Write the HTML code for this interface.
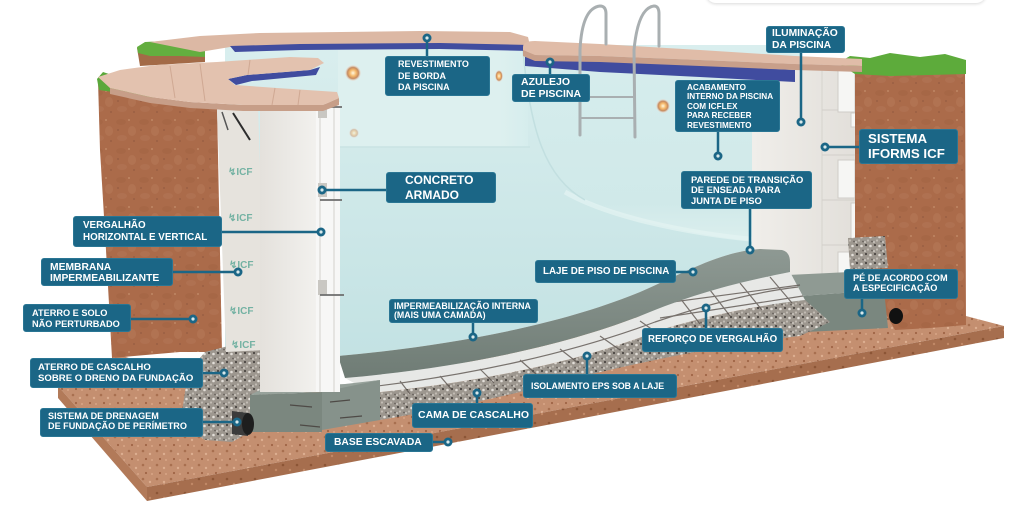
<!DOCTYPE html>
<html>
<head>
<meta charset="utf-8">
<style>
html,body{margin:0;padding:0;}
body{width:1024px;height:505px;overflow:hidden;background:#fff;position:relative;font-family:"Liberation Sans",Arial,sans-serif;}
svg{position:absolute;left:0;top:0;}
.lb{position:absolute;background:#1b6686;color:#fff;font-weight:bold;border-radius:3px;box-sizing:border-box;white-space:nowrap;border:1px solid #2a7694;}
.topbox{position:absolute;left:706px;top:-20px;width:280px;height:23px;border-radius:10px;background:#fff;box-shadow:0 1px 3px rgba(0,0,0,0.15);}
</style>
</head>
<body>
<div class="topbox"></div>
<svg width="1024" height="505" viewBox="0 0 1024 505">
<defs>
  <linearGradient id="water" x1="0" y1="0" x2="0" y2="1">
    <stop offset="0" stop-color="#d9eeee"/><stop offset="1" stop-color="#c3e2e3"/>
  </linearGradient>
  <linearGradient id="stepwall" x1="0" y1="0" x2="0" y2="1">
    <stop offset="0" stop-color="#d6eded"/><stop offset="0.8" stop-color="#d0e9e9"/><stop offset="1" stop-color="#dcefee"/>
  </linearGradient>
  <linearGradient id="backwall" x1="0" y1="0" x2="1" y2="0">
    <stop offset="0" stop-color="#ddf0ef"/><stop offset="0.85" stop-color="#ddf0ef"/><stop offset="1" stop-color="#d6eded"/>
  </linearGradient>
  <linearGradient id="col" x1="0" y1="0" x2="1" y2="0">
    <stop offset="0" stop-color="#e4e1dc"/><stop offset="1" stop-color="#f2f1ee"/>
  </linearGradient>
  <linearGradient id="rwall" x1="0" y1="0" x2="1" y2="0">
    <stop offset="0" stop-color="#f0eeea"/><stop offset="1" stop-color="#e2dfda"/>
  </linearGradient>
  <linearGradient id="slab" x1="0" y1="0" x2="0" y2="1">
    <stop offset="0" stop-color="#8e9993"/><stop offset="1" stop-color="#6f7c75"/>
  </linearGradient>
  <linearGradient id="soilg" x1="0" y1="0" x2="0" y2="1">
    <stop offset="0" stop-color="#a8684a"/><stop offset="0.5" stop-color="#b07250"/><stop offset="1" stop-color="#a46446"/>
  </linearGradient>
  <radialGradient id="lamp">
    <stop offset="0" stop-color="#fff8e0"/><stop offset="0.4" stop-color="#f5b96c"/><stop offset="0.7" stop-color="#c58a60"/><stop offset="1" stop-color="#efe6de" stop-opacity="0.3"/>
  </radialGradient>
  <pattern id="soilp" width="23" height="29" patternUnits="userSpaceOnUse">
    <rect width="23" height="29" fill="#ab6b4a"/>
    <ellipse cx="6" cy="6" rx="5" ry="3" fill="#9d5d3e" opacity="0.35"/>
    <ellipse cx="17" cy="15" rx="4" ry="5" fill="#bd8160" opacity="0.35"/>
    <ellipse cx="7" cy="22" rx="5" ry="3" fill="#b9805f" opacity="0.3"/>
    <circle cx="14" cy="4" r="1" fill="#c89171" opacity="0.7"/>
    <circle cx="3" cy="14" r="0.9" fill="#87503a" opacity="0.6"/>
    <circle cx="19" cy="25" r="0.9" fill="#87503a" opacity="0.6"/>
  </pattern>
  <pattern id="basep" width="14" height="14" patternUnits="userSpaceOnUse">
    <rect width="14" height="14" fill="#c48f70"/>
    <circle cx="3" cy="3" r="1.3" fill="#a86f4f"/>
    <circle cx="10" cy="6" r="1.2" fill="#dcae90"/>
    <circle cx="6" cy="11" r="1.1" fill="#9f6546"/>
    <circle cx="12" cy="12" r="1" fill="#d8a587"/>
  </pattern>
  <pattern id="basedk" width="14" height="14" patternUnits="userSpaceOnUse">
    <rect width="14" height="14" fill="#a66e4e"/>
    <circle cx="3" cy="3" r="1.3" fill="#8c5536"/>
    <circle cx="10" cy="8" r="1.2" fill="#c08866"/>
  </pattern>
  <pattern id="gravp" width="9" height="9" patternUnits="userSpaceOnUse">
    <rect width="9" height="9" fill="#9d978f"/>
    <circle cx="2" cy="2" r="1.1" fill="#4a4642"/>
    <circle cx="6.5" cy="3" r="1.3" fill="#e2ded8"/>
    <circle cx="4" cy="6.5" r="1.1" fill="#c3bdb5"/>
    <circle cx="8" cy="7.5" r="0.9" fill="#66605a"/>
    <circle cx="1" cy="8" r="0.8" fill="#ebe7e1"/>
  </pattern>
</defs>

<!-- base slab -->
<polygon points="58,386 147,487 1004,326 966,316 870,300 700,300 400,380 250,400 120,355" fill="url(#basep)"/>
<polygon points="147,487 1004,326 1004,338 147,501" fill="url(#basedk)"/>
<polygon points="58,386 147,487 147,501 58,398" fill="#b27a59"/>

<!-- left soil block -->
<polygon points="98,80 110,86 150,97 217,106 222,352 180,352 112,358 106,250 100,150" fill="url(#soilp)"/>
<polygon points="137,48 160,42 205,52 205,62 140,66" fill="#a36a47"/>
<polygon points="137,47 145,42 165,41 185,46 205,50 205,57 180,56 150,56 138,53" fill="#63ae3f"/>
<polygon points="97,79 103,72 112,75 120,71 128,78 140,83 150,89 156,97 140,98 120,93 99,90" fill="#5aa83a"/>

<!-- water -->
<path d="M225,45 L800,45 L800,250 L760,249 C720,252 690,270 640,292 C560,325 450,346 338,356 L225,356 Z" fill="url(#water)"/>
<rect x="338" y="50" width="190" height="97" fill="url(#backwall)"/>
<line x1="338" y1="147" x2="530" y2="147" stroke="#c9e3e3" stroke-width="1.5"/>
<path d="M523,50 L760,60 L760,242 C700,236 630,222 585,200 C545,178 530,130 523,50 Z" fill="url(#stepwall)"/>
<path d="M565,192 C605,215 680,233 760,240" stroke="#e4f3f2" stroke-width="5" fill="none" opacity="0.7"/>
<path d="M523,50 C530,130 545,178 585,200" stroke="#c2dfe0" stroke-width="1.5" fill="none"/>
<!-- lamps -->
<circle cx="353" cy="73" r="8" fill="url(#lamp)"/>
<ellipse cx="499" cy="76" rx="4" ry="6" fill="url(#lamp)"/>
<circle cx="663" cy="106" r="7" fill="url(#lamp)"/>
<ellipse cx="788" cy="117" rx="5" ry="7" fill="url(#lamp)"/>
<circle cx="354" cy="133" r="5" fill="url(#lamp)" opacity="0.5"/>

<!-- right wall -->
<polygon points="752,60 855,64 855,292 787,292 787,258 752,250" fill="url(#rwall)"/>
<line x1="822" y1="64" x2="822" y2="292" stroke="#d6d3ce" stroke-width="1"/>
<g stroke="#d2cfca" stroke-width="1">
  <line x1="822" y1="110" x2="855" y2="110"/><line x1="822" y1="155" x2="855" y2="155"/>
  <line x1="822" y1="200" x2="855" y2="200"/><line x1="822" y1="245" x2="855" y2="245"/>
</g>
<g fill="#f6f6f4" stroke="#cfccc7" stroke-width="1">
  <rect x="838" y="66" width="17" height="46"/>
  <rect x="851" y="113" width="20" height="14"/>
  <rect x="838" y="160" width="17" height="38"/>
  <rect x="851" y="203" width="18" height="48"/>
  <rect x="838" y="252" width="15" height="38"/>
</g>

<!-- right soil -->
<polygon points="855,72 965,68 966,325 930,328 895,330 878,300 862,285 855,250" fill="url(#soilp)"/>
<polygon points="838,63 850,56 870,58 890,53 920,57 945,54 966,60 966,74 930,75 890,76 855,74" fill="#5dab3b"/>
<polygon points="848,238 885,236 888,268 850,270" fill="url(#gravp)"/>

<!-- right footing -->
<polygon points="767,276 850,272 884,290 800,296" fill="#8f9a93"/>
<polygon points="800,296 884,290 888,328 805,332" fill="#7a877f"/>
<polygon points="767,276 800,296 805,332 770,318" fill="#6e7b73"/>
<ellipse cx="896" cy="316" rx="7" ry="8" fill="#111"/>

<!-- floor stack -->
<path d="M372,393 C480,382 580,362 660,330 C710,315 760,305 805,300 L830,322 L800,336 C720,345 640,362 560,382 C500,398 440,410 380,420 Z" fill="url(#gravp)"/>
<path d="M345,378 C460,368 570,345 650,312 C700,292 740,282 790,272 L805,300 C760,305 710,315 660,330 C580,362 480,382 372,393 Z" fill="#e7e8e6"/>
<g stroke="#5d5550" stroke-width="1.2" opacity="0.8" fill="none">
  <path d="M360,388 C470,376 575,352 655,322 C705,305 755,292 798,287"/>
  <line x1="650" y1="305" x2="800" y2="285"/>
  <line x1="660" y1="318" x2="803" y2="296"/>
  <line x1="680" y1="298" x2="700" y2="324"/>
  <line x1="710" y1="290" x2="730" y2="316"/>
  <line x1="740" y1="283" x2="762" y2="310"/>
  <line x1="770" y1="277" x2="792" y2="303"/>
  <line x1="400" y1="381" x2="410" y2="394"/><line x1="440" y1="376" x2="452" y2="390"/>
  <line x1="480" y1="369" x2="494" y2="383"/><line x1="520" y1="360" x2="536" y2="374"/>
  <line x1="560" y1="349" x2="578" y2="363"/><line x1="600" y1="336" x2="620" y2="350"/>
  <line x1="640" y1="321" x2="660" y2="335"/>
</g>
<path d="M338,356 C450,346 560,325 640,292 C690,270 720,252 760,249 L782,250 Q790,252 790,262 L790,272 C740,282 700,292 650,312 C570,345 460,368 345,378 Z" fill="url(#slab)"/>

<!-- left gravel mound -->
<polygon points="188,372 205,352 240,343 282,345 283,395 262,400 250,432 232,442 205,440 180,425" fill="url(#gravp)"/>
<!-- left footing -->
<polygon points="250,395 322,392 322,432 250,432" fill="#7b877f"/>
<polygon points="322,388 380,380 380,420 322,430" fill="#86928b"/>
<polygon points="250,395 264,388 345,384 380,380 322,392" fill="#97a29b"/>
<g stroke="#4e4a46" stroke-width="1.2">
  <line x1="290" y1="405" x2="312" y2="407"/><line x1="330" y1="402" x2="350" y2="400"/>
  <line x1="300" y1="425" x2="320" y2="427"/><line x1="340" y1="418" x2="362" y2="416"/>
</g>
<!-- drain pipe -->
<polygon points="232,411 248,413 248,436 232,434" fill="#3b3b3b"/>
<ellipse cx="248" cy="424" rx="6" ry="11" fill="#1e1e1e"/>

<!-- left ICF panel -->
<polygon points="217,110 258,106 266,350 226,352" fill="#e6e3dd"/>
<line x1="233" y1="113" x2="250" y2="140" stroke="#2d2d2d" stroke-width="2"/>
<line x1="222" y1="112" x2="228" y2="130" stroke="#555" stroke-width="1.5"/>
<g font-family="Liberation Sans, sans-serif" font-weight="bold" font-size="10" fill="#74b2a3">
  <text x="228" y="175">↯ICF</text><text x="228" y="221">↯ICF</text>
  <text x="229" y="268">↯ICF</text><text x="229" y="314">↯ICF</text><text x="231" y="348">↯ICF</text>
</g>
<!-- white column -->
<rect x="260" y="98" width="57" height="294" fill="url(#col)"/>
<rect x="316" y="102" width="24" height="290" fill="#f7f7f6"/>
<line x1="320" y1="102" x2="320" y2="392" stroke="#d3d1cc" stroke-width="1"/>
<line x1="334" y1="102" x2="334" y2="392" stroke="#d3d1cc" stroke-width="1"/>
<g fill="#c9c7c2">
  <rect x="318" y="104" width="9" height="14"/><rect x="318" y="183" width="9" height="14"/>
  <rect x="318" y="280" width="9" height="15"/>
</g>
<g stroke="#6d6d6d" stroke-width="1.8">
  <line x1="320" y1="107" x2="342" y2="107"/><line x1="320" y1="200" x2="342" y2="200"/>
  <line x1="320" y1="295" x2="344" y2="295"/>
</g>

<!-- back coping + tiles -->
<polygon points="150,42 200,36 260,33 420,31 510,32 528,37 530,46 440,44 300,45 230,47 200,52" fill="#dcb8a4"/>
<polygon points="230,46 300,44 440,43 530,45 530,51 440,49 300,50 235,52" fill="#414d9f"/>
<!-- right coping + tiles -->
<polygon points="525,57 600,60 700,65 795,70 795,82 700,77 600,72 525,66" fill="#404c9f"/>
<path d="M523,47 Q523,41 535,41 L600,44 L700,50 L795,56 L862,59 L862,66 L795,64 L700,60 L600,56 L535,55 Q523,54 523,50 Z" fill="#e0bca8"/>
<polygon points="535,55 600,56 700,60 795,64 862,66 862,72 795,70 700,66 600,62 535,61 523,56 523,50" fill="#c89f8a"/>
<!-- front coping -->
<polygon points="110,88 150,97 190,102 243,105 323,105 339,98 339,105 323,111 243,111 190,108 150,103 110,94" fill="#c79e88"/>
<polygon points="228,79 247,75 310,70 320,67 316,75 252,81 236,85" fill="#404c9f"/>
<polygon points="98,77 120,70 157,65 217,62 290,57 318,58 324,63 310,70 247,75 228,79 235,85 277,88 337,92 339,98 323,105 243,105 190,102 150,97 110,88" fill="#e3c2af"/>
<g stroke="#cfa893" stroke-width="1" fill="none">
  <line x1="170" y1="66" x2="175" y2="98"/><line x1="200" y1="64" x2="205" y2="101"/>
  <line x1="250" y1="60" x2="248" y2="75"/><line x1="275" y1="88" x2="272" y2="105"/>
  <line x1="300" y1="90" x2="298" y2="105"/>
</g>

<!-- ladder -->
<g stroke="#a9afb1" stroke-width="3" fill="none" stroke-linecap="round">
  <path d="M580,135 L580,50 Q582,8 600,6 Q606,6 606,14 L606,44"/>
  <path d="M635,137 L634,50 Q638,8 654,6 Q659,6 659,14 L659,46"/>
  <line x1="580" y1="97" x2="634" y2="97" stroke-width="2"/>
  <line x1="580" y1="118" x2="634" y2="118" stroke-width="2"/>
</g>

<!-- connectors -->
<g stroke="#1b6686" stroke-width="2.5" fill="none">
  <line x1="427" y1="56" x2="427" y2="38"/>
  <line x1="386" y1="190" x2="322" y2="190"/>
  <line x1="222" y1="232" x2="321" y2="232"/>
  <line x1="550" y1="74" x2="550" y2="62"/>
  <line x1="801" y1="53" x2="801" y2="122"/>
  <line x1="718" y1="132" x2="718" y2="156"/>
  <line x1="859" y1="147" x2="825" y2="147"/>
  <line x1="750" y1="209" x2="750" y2="250"/>
  <line x1="173" y1="272" x2="238" y2="272"/>
  <line x1="131" y1="319" x2="193" y2="319"/>
  <line x1="203" y1="373" x2="224" y2="373"/>
  <line x1="203" y1="422" x2="237" y2="422"/>
  <line x1="433" y1="442" x2="448" y2="442"/>
  <line x1="477" y1="403" x2="477" y2="393"/>
  <line x1="473" y1="323" x2="473" y2="337"/>
  <line x1="587" y1="374" x2="587" y2="356"/>
  <line x1="676" y1="272" x2="693" y2="272"/>
  <line x1="706" y1="328" x2="706" y2="308"/>
  <line x1="862" y1="299" x2="862" y2="313"/>
</g>
<g fill="#1b6686">
  <circle cx="427" cy="38" r="4.5"/><circle cx="322" cy="190" r="4.5"/><circle cx="321" cy="232" r="4.5"/>
  <circle cx="550" cy="62" r="4.5"/><circle cx="801" cy="122" r="4.5"/><circle cx="718" cy="156" r="4.5"/>
  <circle cx="825" cy="147" r="4.5"/><circle cx="750" cy="250" r="4.5"/><circle cx="238" cy="272" r="4.5"/>
  <circle cx="193" cy="319" r="4.5"/><circle cx="224" cy="373" r="4.5"/><circle cx="237" cy="422" r="4.5"/>
  <circle cx="448" cy="442" r="4.5"/><circle cx="477" cy="393" r="4.5"/><circle cx="473" cy="337" r="4.5"/>
  <circle cx="587" cy="356" r="4.5"/><circle cx="693" cy="272" r="4.5"/><circle cx="706" cy="308" r="4.5"/>
  <circle cx="862" cy="313" r="4.5"/>
</g>
<g fill="#d8e8ea">
  <circle cx="427" cy="38" r="1.6"/><circle cx="322" cy="190" r="1.6"/><circle cx="321" cy="232" r="1.6"/>
  <circle cx="550" cy="62" r="1.6"/><circle cx="801" cy="122" r="1.6"/><circle cx="718" cy="156" r="1.6"/>
  <circle cx="825" cy="147" r="1.6"/><circle cx="750" cy="250" r="1.6"/><circle cx="238" cy="272" r="1.6"/>
  <circle cx="193" cy="319" r="1.6"/><circle cx="224" cy="373" r="1.6"/><circle cx="237" cy="422" r="1.6"/>
  <circle cx="448" cy="442" r="1.6"/><circle cx="477" cy="393" r="1.6"/><circle cx="473" cy="337" r="1.6"/>
  <circle cx="587" cy="356" r="1.6"/><circle cx="693" cy="272" r="1.6"/><circle cx="706" cy="308" r="1.6"/>
  <circle cx="862" cy="313" r="1.6"/>
</g>
</svg>

<div class="lb" style="left:385px;top:56px;width:105px;height:40px;font-size:9px;line-height:11.5px;padding:2px 0 0 12px;">REVESTIMENTO<br>DE BORDA<br>DA PISCINA</div>
<div class="lb" style="left:386px;top:172px;width:110px;height:31px;font-size:12px;line-height:14.5px;padding:0 0 0 18px;">CONCRETO<br>ARMADO</div>
<div class="lb" style="left:73px;top:216px;width:149px;height:31px;font-size:9.8px;line-height:12px;padding:3px 0 0 9px;">VERGALHÃO<br>HORIZONTAL E VERTICAL</div>
<div class="lb" style="left:512px;top:74px;width:78px;height:28px;font-size:10.5px;line-height:12px;padding:1px 0 0 8px;">AZULEJO<br>DE PISCINA</div>
<div class="lb" style="left:766px;top:26px;width:79px;height:27px;font-size:10.3px;line-height:12px;padding:1px 0 0 5px;">ILUMINAÇÃO<br>DA PISCINA</div>
<div class="lb" style="left:675px;top:80px;width:105px;height:52px;font-size:8.2px;line-height:9.5px;padding:1.5px 0 0 11px;">ACABAMENTO<br>INTERNO DA PISCINA<br>COM ICFLEX<br>PARA RECEBER<br>REVESTIMENTO</div>
<div class="lb" style="left:859px;top:129px;width:99px;height:35px;font-size:13.3px;line-height:15.5px;padding:0.5px 0 0 8px;">SISTEMA<br>IFORMS ICF</div>
<div class="lb" style="left:681px;top:171px;width:131px;height:38px;font-size:9.4px;line-height:10.8px;padding:2.5px 0 0 9px;">PAREDE DE TRANSIÇÃO<br>DE ENSEADA PARA<br>JUNTA DE PISO</div>
<div class="lb" style="left:41px;top:258px;width:132px;height:28px;font-size:10.3px;line-height:11.4px;padding:2.5px 0 0 8px;">MEMBRANA<br>IMPERMEABILIZANTE</div>
<div class="lb" style="left:23px;top:304px;width:108px;height:28px;font-size:9.2px;line-height:10.7px;padding:3px 0 0 8px;">ATERRO E SOLO<br>NÃO PERTURBADO</div>
<div class="lb" style="left:30px;top:358px;width:173px;height:30px;font-size:9.6px;line-height:11.4px;padding:2.5px 0 0 7px;">ATERRO DE CASCALHO<br>SOBRE O DRENO DA FUNDAÇÃO</div>
<div class="lb" style="left:40px;top:408px;width:163px;height:29px;font-size:9.1px;line-height:10.7px;padding:1.5px 0 0 7px;">SISTEMA DE DRENAGEM<br>DE FUNDAÇÃO DE PERÍMETRO</div>
<div class="lb" style="left:325px;top:433px;width:108px;height:19px;font-size:10.3px;line-height:17px;padding:0 0 0 8px;">BASE ESCAVADA</div>
<div class="lb" style="left:412px;top:403px;width:121px;height:25px;font-size:10.5px;line-height:23px;padding:0 0 0 5px;">CAMA DE CASCALHO</div>
<div class="lb" style="left:389px;top:299px;width:149px;height:24px;font-size:8.8px;line-height:9px;padding:2.2px 0 0 4px;">IMPERMEABILIZAÇÃO INTERNA<br>(MAIS UMA CAMADA)</div>
<div class="lb" style="left:523px;top:374px;width:154px;height:24px;font-size:8.8px;line-height:22px;padding:0 0 0 7px;">ISOLAMENTO EPS SOB A LAJE</div>
<div class="lb" style="left:535px;top:260px;width:141px;height:23px;font-size:9.8px;line-height:21px;padding:0 0 0 7px;">LAJE DE PISO DE PISCINA</div>
<div class="lb" style="left:642px;top:328px;width:141px;height:24px;font-size:9.7px;line-height:22px;padding:0 0 0 5px;">REFORÇO DE VERGALHÃO</div>
<div class="lb" style="left:844px;top:269px;width:114px;height:30px;font-size:9.2px;line-height:10.4px;padding:3px 0 0 8px;">PÉ DE ACORDO COM<br>A ESPECIFICAÇÃO</div>
</body>
</html>
